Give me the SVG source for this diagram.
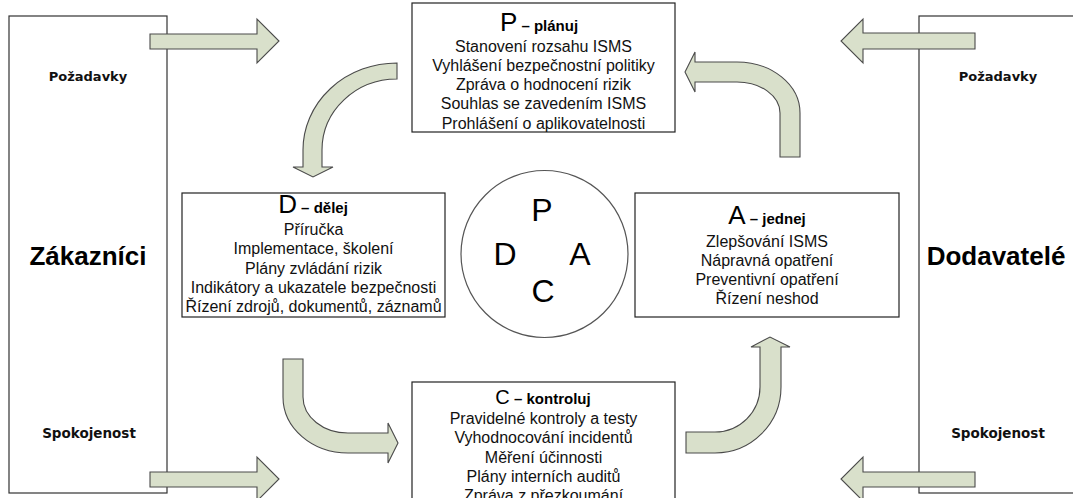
<svg xmlns="http://www.w3.org/2000/svg" width="1073" height="498" viewBox="0 0 1073 498">
<style>
.box{fill:#fff;stroke:#222;stroke-width:1.2}
.side{fill:#fff;stroke:#333;stroke-width:1.2}
.arr{fill:#d9e0cb;stroke:#4a4a4a;stroke-width:1.1;stroke-linejoin:miter}
.t{font-family:"Liberation Sans",Arial,sans-serif;font-size:16px;fill:#111;text-anchor:middle}
.big{font-family:"Liberation Sans",Arial,sans-serif;font-size:26px;fill:#000}
.sub{font-family:"Liberation Sans",Arial,sans-serif;font-size:15px;font-weight:bold;fill:#000}
.lbl{font-family:"DejaVu Sans",Verdana,sans-serif;font-size:13px;font-weight:bold;fill:#111;text-anchor:middle}
.side-t{font-family:"Liberation Sans",Arial,sans-serif;font-size:26px;font-weight:bold;fill:#000;text-anchor:middle}
.circ{font-family:"Liberation Sans",Arial,sans-serif;font-size:32px;fill:#000;text-anchor:middle}
</style>
<rect width="1073" height="498" fill="#fff"/>
<g id="zakaznici">
<rect class="side" x="9" y="16" width="158" height="477"/>
<text class="lbl" x="88" y="81">Požadavky</text>
<text class="side-t" x="88" y="265">Zákazníci</text>
<text class="lbl" x="89" y="438" style="font-size:13.5px">Spokojenost</text>
</g>
<g id="dodavatele">
<rect class="side" x="919" y="16" width="160" height="477"/>
<text class="lbl" x="998" y="81">Požadavky</text>
<text class="side-t" x="996" y="265">Dodavatelé</text>
<text class="lbl" x="998" y="438" style="font-size:13.5px">Spokojenost</text>
</g>
<g id="connectors">
<polygon class="arr" points="150,34 257,34 257,19 279,41 257,63 257,49 150,49"/>
<polygon class="arr" points="150,472 257,472 257,457 279,479 257,501 257,487 150,487"/>
<polygon class="arr" points="975,33 863,33 863,19 841,41 863,63 863,49 975,49"/>
<polygon class="arr" points="975,472 863,472 863,457 841,479 863,501 863,487 975,487"/>
<path class="arr" d="M397,63 A94,87 0 0 0 303,150 L303,167 L293,167 L313,177 L333,167 L322,167 L322,150 A75,71 0 0 1 397,79 Z"/>
<path class="arr" d="M800,157 L800,113 A63,51 0 0 0 737,62 L695,62 L695,52 L685,72 L695,92 L695,82 L737,82 A43,31 0 0 1 780,113 L780,157 Z"/>
<path class="arr" d="M283,359 L283,397 A65,56 0 0 0 348,453 L388,453 L388,463 L398,443 L388,423 L388,433 L348,433 A45,36 0 0 1 303,397 L303,359 Z"/>
<path class="arr" d="M686,432 L715,432 A45,45 0 0 0 760,387 L760,347 L751,347 L770,337 L790,347 L781,347 L781,387 A66,66 0 0 1 715,453 L686,453 Z"/>
</g>
<g id="plan">
<rect class="box" x="412" y="3" width="263" height="129"/>
<text x="539" y="30.5" text-anchor="middle"><tspan class="big">P</tspan><tspan class="sub"> – plánuj</tspan></text>
<text class="t" x="543.5" y="51.5">Stanovení rozsahu ISMS</text>
<text class="t" x="543.5" y="70.8">Vyhlášení bezpečnostní politiky</text>
<text class="t" x="543.5" y="90.1">Zpráva o hodnocení rizik</text>
<text class="t" x="543.5" y="109.4">Souhlas se zavedením ISMS</text>
<text class="t" x="543.5" y="128.5">Prohlášení o aplikovatelnosti</text>
</g>
<g id="delej">
<rect class="box" x="182" y="193" width="263" height="124"/>
<text x="313" y="213" text-anchor="middle"><tspan class="big">D</tspan><tspan class="sub"> – dělej</tspan></text>
<text class="t" x="313.5" y="235">Příručka</text>
<text class="t" x="313.5" y="254.3">Implementace, školení</text>
<text class="t" x="313.5" y="273.6">Plány zvládání rizik</text>
<text class="t" x="313.5" y="292.9">Indikátory a ukazatele bezpečnosti</text>
<text class="t" x="313.5" y="312.2">Řízení zdrojů, dokumentů, záznamů</text>
</g>
<g id="jednej">
<rect class="box" x="635" y="193" width="264" height="124"/>
<text x="767" y="224" text-anchor="middle"><tspan class="big">A</tspan><tspan class="sub"> – jednej</tspan></text>
<text class="t" x="767" y="247">Zlepšování ISMS</text>
<text class="t" x="767" y="266">Nápravná opatření</text>
<text class="t" x="767" y="285">Preventivní opatření</text>
<text class="t" x="767" y="304">Řízení neshod</text>
</g>
<g id="kontroluj">
<rect class="box" x="412" y="382" width="263" height="130"/>
<text x="543" y="403.5" text-anchor="middle"><tspan class="big" style="font-size:20px">C</tspan><tspan class="sub"> – kontroluj</tspan></text>
<text class="t" x="543.5" y="424">Pravidelné kontroly a testy</text>
<text class="t" x="543.5" y="443">Vyhodnocování incidentů</text>
<text class="t" x="543.5" y="462.5">Měření účinnosti</text>
<text class="t" x="543.5" y="481.5">Plány interních auditů</text>
<text class="t" x="543.5" y="501">Zpráva z přezkoumání</text>
</g>
<g id="pdca">
<circle cx="544.5" cy="254" r="83.5" fill="#fff" stroke="#555" stroke-width="1.2"/>
<text class="circ" x="542" y="221">P</text>
<text class="circ" x="505" y="265">D</text>
<text class="circ" x="580" y="265">A</text>
<text class="circ" x="543" y="302">C</text>
</g>
</svg>
